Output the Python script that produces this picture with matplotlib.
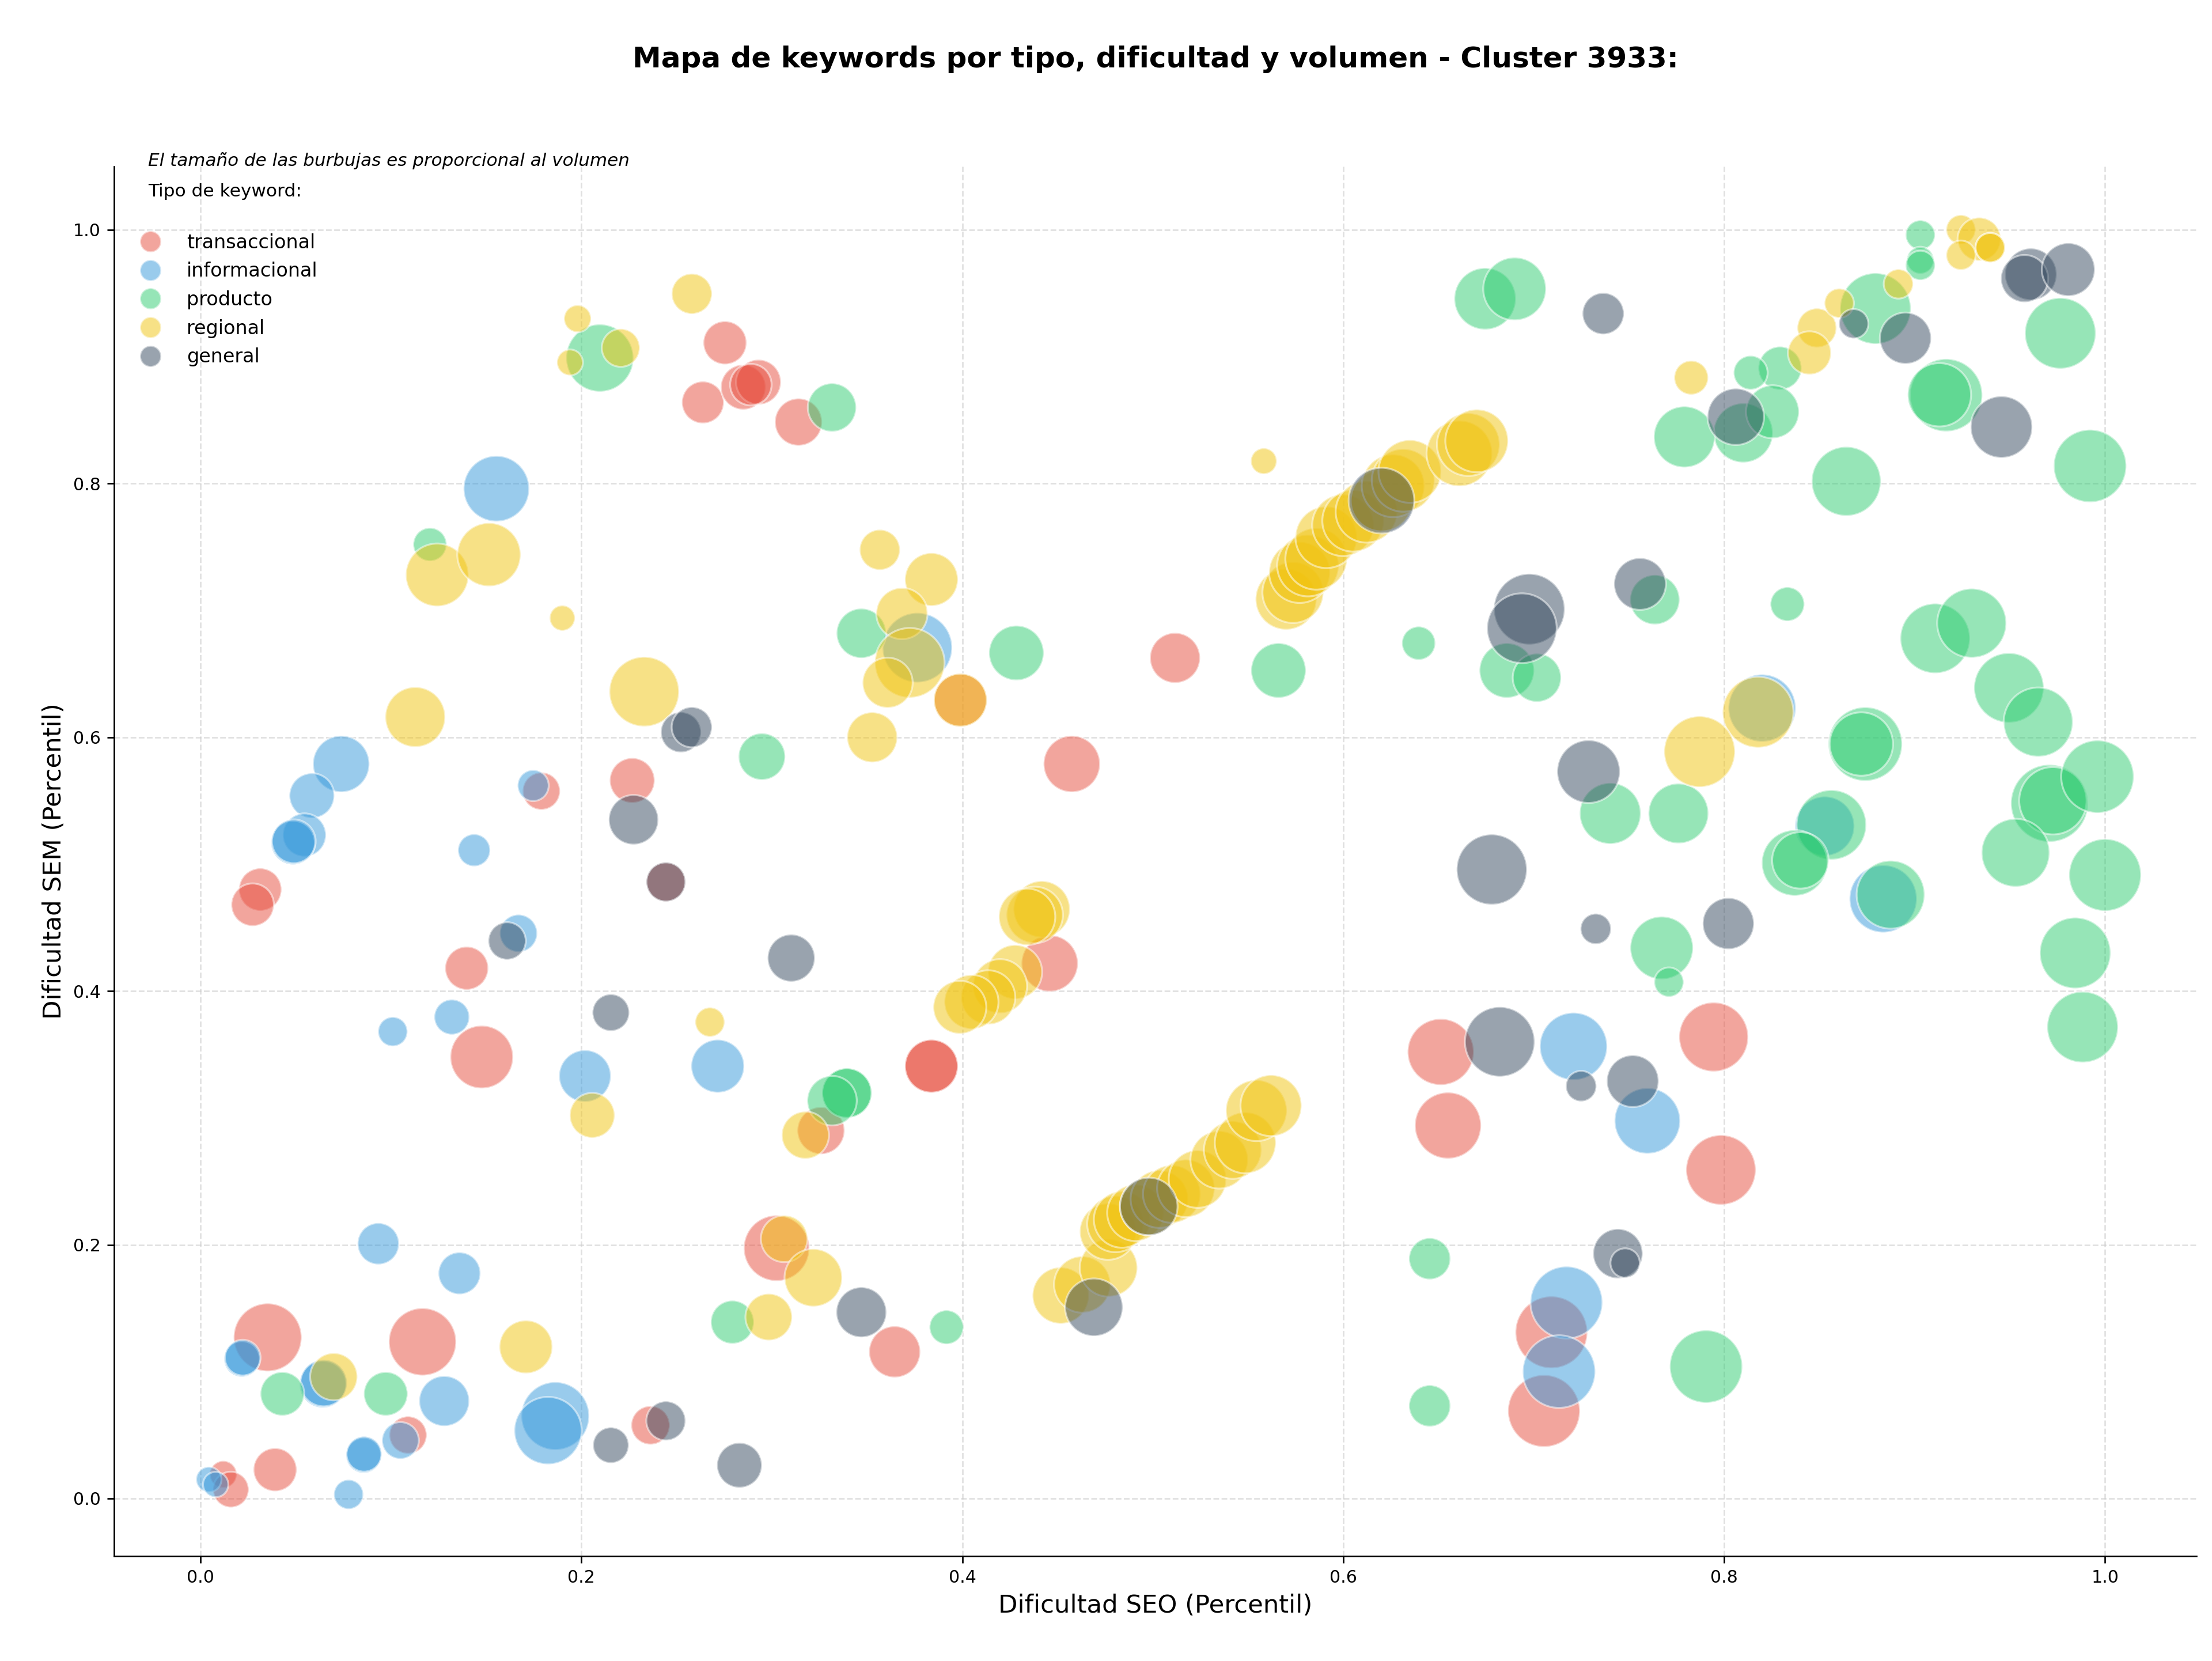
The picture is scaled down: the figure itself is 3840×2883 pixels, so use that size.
import matplotlib
matplotlib.use("Agg")
import matplotlib.pyplot as plt
from matplotlib.lines import Line2D

# ---------------- data ----------------
tipos = ["transaccional", "informacional", "producto", "regional", "general"]
colores = ["#e74c3c", "#3498db", "#2ecc71", "#f1c40f", "#34495e"]

trans_x = [0.2754, 0.2638, 0.285, 0.293, 0.289, 0.314, 0.179, 0.2267, 0.0314, 0.0274,
           0.1398, 0.1477, 0.0353, 0.1166, 0.109, 0.0392, 0.012, 0.016, 0.2444, 0.3258,
           0.3838, 0.3838, 0.4459, 0.3025, 0.3645, 0.2363, 0.399, 0.4575, 0.5117, 0.6512,
           0.655, 0.7093, 0.7054, 0.7945, 0.7983]
trans_y = [0.911, 0.864, 0.876, 0.880, 0.878, 0.8485, 0.5576, 0.566, 0.480, 0.468,
           0.418, 0.348, 0.127, 0.1235, 0.050, 0.0227, 0.019, 0.007, 0.486, 0.290,
           0.3408, 0.3408, 0.4218, 0.1973, 0.1156, 0.0577, 0.6293, 0.579, 0.6626, 0.352,
           0.294, 0.131, 0.069, 0.3638, 0.259]
trans_v = [1013, 959, 1095, 1095, 933, 1210, 761, 1095, 986, 986,
           1013, 2139, 2506, 2464, 761, 1013, 398, 692, 832, 1210,
           1524, 1524, 1729, 2339, 1426, 808, 1524, 1729, 1362, 2381,
           2381, 2813, 2813, 2592, 2635]

info_x = [0.1554, 0.0739, 0.0585, 0.0546, 0.0486, 0.049, 0.1437, 0.1747, 0.167, 0.101,
          0.132, 0.2019, 0.0934, 0.136, 0.0218, 0.0222, 0.0643, 0.0647, 0.128, 0.1863,
          0.1825, 0.105, 0.0857, 0.0859, 0.0778, 0.0044, 0.008, 0.2716, 0.3764, 0.7209,
          0.7597, 0.7172, 0.7133, 0.8199, 0.8835, 0.8528]
info_y = [0.796, 0.579, 0.554, 0.523, 0.517, 0.518, 0.511, 0.562, 0.4455, 0.368,
          0.3795, 0.333, 0.2008, 0.1775, 0.110, 0.111, 0.090, 0.091, 0.0768, 0.065,
          0.0535, 0.0457, 0.034, 0.035, 0.0032, 0.015, 0.011, 0.3408, 0.6707, 0.3564,
          0.2977, 0.1545, 0.100, 0.623, 0.4727, 0.530]
info_v = [2339, 1729, 1095, 1013, 1040, 1040, 564, 525, 761, 468,
          670, 1458, 933, 959, 692, 692, 1181, 1181, 1362, 2506,
          2464, 737, 670, 670, 468, 348, 348, 1524, 2635, 2464,
          2339, 2813, 2858, 2464, 2464, 1910]

prod_x = [0.2097, 0.1205, 0.3316, 0.347, 0.4284, 0.2948, 0.3394, 0.3394, 0.3316, 0.2793,
          0.3917, 0.043, 0.0973, 0.566, 0.6396, 0.6859, 0.7017, 0.7636, 0.6745, 0.690,
          0.7402, 0.776, 0.7672, 0.771, 0.6454, 0.6454, 0.7905, 0.903, 0.903, 0.903,
          0.9765, 0.8794, 0.8293, 0.8139, 0.810, 0.8254, 0.7791, 0.9165, 0.913, 0.9921,
          0.8641, 0.8332, 0.9108, 0.930, 0.9495, 0.9649, 0.8741, 0.872, 0.9708, 0.9726,
          0.996, 0.953, 1.0, 0.8563, 0.837, 0.840, 0.8874, 0.9843, 0.9882]
prod_y = [0.899, 0.752, 0.860, 0.682, 0.6665, 0.5848, 0.3196, 0.3196, 0.3136, 0.139,
          0.135, 0.0825, 0.0825, 0.6527, 0.6742, 0.6527, 0.647, 0.7085, 0.9457, 0.9535,
          0.540, 0.540, 0.434, 0.407, 0.189, 0.073, 0.104, 0.996, 0.976, 0.972,
          0.9185, 0.938, 0.891, 0.8874, 0.840, 0.8566, 0.8368, 0.8697, 0.870, 0.8139,
          0.8018, 0.705, 0.678, 0.690, 0.639, 0.612, 0.5947, 0.5947, 0.548, 0.550,
          0.569, 0.509, 0.4915, 0.531, 0.501, 0.503, 0.476, 0.430, 0.3716]
prod_v = [2464, 606, 1270, 1331, 1625, 1181, 1331, 1331, 1331, 1013,
          627, 1040, 1040, 1625, 606, 1625, 1270, 1331, 2061, 2139,
          2022, 1947, 2139, 468, 933, 933, 2858, 468, 398, 468,
          2723, 2723, 1013, 627, 1910, 1524, 2022, 2858, 2178, 2858,
          2592, 627, 2635, 2592, 2635, 2592, 2949, 2178, 3232, 2464,
          2858, 2506, 2813, 2635, 2339, 1729, 2506, 2723, 2723]

reg_x = [0.198, 0.2207, 0.194, 0.1243, 0.1515, 0.190, 0.1128, 0.233, 0.258, 0.3567,
         0.3838, 0.3683, 0.3724, 0.3608, 0.3527, 0.399, 0.2057, 0.2675, 0.3176, 0.1709,
         0.070, 0.3065, 0.3218, 0.2984,
         0.4417, 0.438, 0.434, 0.4277, 0.4198, 0.4136, 0.4048, 0.3987,
         0.4517, 0.463, 0.4768, 0.4765, 0.4804, 0.4839, 0.4909, 0.4979, 0.5035, 0.510,
         0.5174, 0.5235, 0.5349, 0.542, 0.5486, 0.5544, 0.5621,
         0.5583, 0.570, 0.5736, 0.5771, 0.5815, 0.5858, 0.5911, 0.5999, 0.6052, 0.6122,
         0.6201, 0.6262, 0.6315, 0.635, 0.661, 0.6657, 0.6701,
         0.7827, 0.8487, 0.8448, 0.8604, 0.8915, 0.9243, 0.9339, 0.9243, 0.9397, 0.9397,
         0.8178, 0.7871]
reg_y = [0.930, 0.907, 0.8955, 0.728, 0.744, 0.694, 0.616, 0.636, 0.9496, 0.7478,
         0.7244, 0.6976, 0.6587, 0.643, 0.600, 0.6293, 0.302, 0.3755, 0.2864, 0.1195,
         0.096, 0.2047, 0.174, 0.143,
         0.4645, 0.460, 0.4585, 0.415, 0.4038, 0.395, 0.3914, 0.3872,
         0.160, 0.1687, 0.1818, 0.2104, 0.2164, 0.2199, 0.2252, 0.2302, 0.236, 0.240,
         0.2445, 0.2518, 0.267, 0.2747, 0.2804, 0.3058, 0.3097,
         0.8177, 0.7089, 0.7142, 0.730, 0.7354, 0.7407, 0.7577, 0.7672, 0.7707, 0.7778,
         0.7866, 0.7983, 0.8026, 0.8096, 0.8238, 0.8308, 0.8337,
         0.8835, 0.9227, 0.903, 0.9422, 0.9574, 1.0002, 0.9927, 0.980, 0.986, 0.986,
         0.6198, 0.5887]
reg_v = [398, 784, 365, 2139, 2178, 348, 1947, 2635, 882, 882,
         1524, 1426, 2635, 1362, 1362, 1524, 1095, 468, 1210, 1524,
         1210, 1181, 1800, 1181,
         1729, 1729, 1729, 1590, 1590, 1590, 1590, 1524,
         1729, 1729, 1800, 1729, 1729, 1729, 1729, 1800, 1800, 1800,
         1800, 1800, 1800, 1800, 2022, 2022, 2022,
         365, 2022, 2022, 2022, 2061, 2061, 2061, 2061, 2061, 2061,
         2061, 2139, 2139, 2139, 2339, 2139, 2139,
         627, 832, 1013, 468, 468, 468, 1013, 468, 468, 468,
         2723, 2723]

gen_x = [0.2523, 0.258, 0.2274, 0.161, 0.2155, 0.2444, 0.3102, 0.347, 0.2444, 0.283,
         0.2155, 0.4691, 0.4979, 0.6201, 0.7365, 0.6977, 0.6938, 0.7558, 0.7288, 0.678,
         0.7326, 0.6822, 0.7249, 0.752, 0.7442, 0.748, 0.8022, 0.961, 0.9577, 0.9807,
         0.868, 0.8952, 0.8061, 0.9456]
gen_y = [0.604, 0.608, 0.535, 0.4395, 0.383, 0.486, 0.426, 0.1468, 0.0612, 0.0262,
         0.042, 0.1507, 0.2302, 0.7866, 0.934, 0.701, 0.686, 0.7209, 0.573, 0.4958,
         0.449, 0.360, 0.325, 0.329, 0.193, 0.1856, 0.4532, 0.965, 0.9616, 0.9687,
         0.926, 0.9146, 0.8527, 0.8446]
gen_v = [882, 882, 1331, 761, 737, 832, 1210, 1362, 832, 1095,
         692, 1800, 1800, 2339, 933, 2723, 2635, 1458, 2139, 2679,
         506, 2635, 506, 1458, 1331, 468, 1426, 1458, 1210, 1524,
         468, 1426, 1729, 2061]

series = [
    (trans_x, trans_y, trans_v),
    (info_x, info_y, info_v),
    (prod_x, prod_y, prod_v),
    (reg_x, reg_y, reg_v),
    (gen_x, gen_y, gen_v),
]

titulo = "Mapa de keywords por tipo, dificultad y volumen - Cluster 3933:"
nota = "El tamaño de las burbujas es proporcional al volumen"
titulo_leyenda = "Tipo de keyword:"
x_ticks = [0.0, 0.2, 0.4, 0.6, 0.8, 1.0]
y_ticks = [0.0, 0.2, 0.4, 0.6, 0.8, 1.0]

# ---------------- figure ----------------
SIZE_SCALE = 0.5
fig = plt.figure(figsize=(16, 12.0125), dpi=240)
ax = fig.add_axes([0.0516, 0.0631, 0.9414, 0.8367])

for (xs, ys, vs), col in zip(series, colores):
    ax.scatter(xs, ys, s=[v * SIZE_SCALE for v in vs], color=col, alpha=0.5,
               edgecolors="white", linewidths=1.0, zorder=3)

ax.set_xlim(-0.0453, 1.048)
ax.set_ylim(-0.0455, 1.05)
ax.set_xticks(x_ticks)
ax.set_yticks(y_ticks)
ax.tick_params(labelsize=9)
ax.grid(True, linestyle="--", color="#cccccc", alpha=0.6, linewidth=0.8, zorder=0)
ax.set_axisbelow(True)
for sp in ["top", "right"]:
    ax.spines[sp].set_visible(False)

ax.set_xlabel("Dificultad SEO (Percentil)", fontsize=13)
ax.set_ylabel("Dificultad SEM (Percentil)", fontsize=13)
ax.xaxis.set_label_coords(0.5, -0.027)
ax.yaxis.set_label_coords(-0.023, 0.5)

ax.text(0.5, 1.077, titulo, transform=ax.transAxes, ha="center", va="center",
        fontsize=15, fontweight="bold")
ax.text(0.0163, 1.0041, nota, transform=ax.transAxes, ha="left", va="center",
        fontsize=9.3, style="italic")
ax.text(0.0163, 0.9818, titulo_leyenda, transform=ax.transAxes, ha="left",
        va="center", fontsize=9.4)

handles = [Line2D([], [], linestyle="none", marker="o", markersize=11,
                  markerfacecolor=c, markeredgecolor="white", alpha=0.5)
           for c in colores]
leg = ax.legend(handles, tipos, loc="upper left",
                bbox_to_anchor=(0.0126, 0.9575), borderaxespad=0, frameon=False,
                fontsize=10, labelspacing=0.5,
                handlelength=0.26, handletextpad=1.75)

fig.savefig("out.png", dpi=240)
